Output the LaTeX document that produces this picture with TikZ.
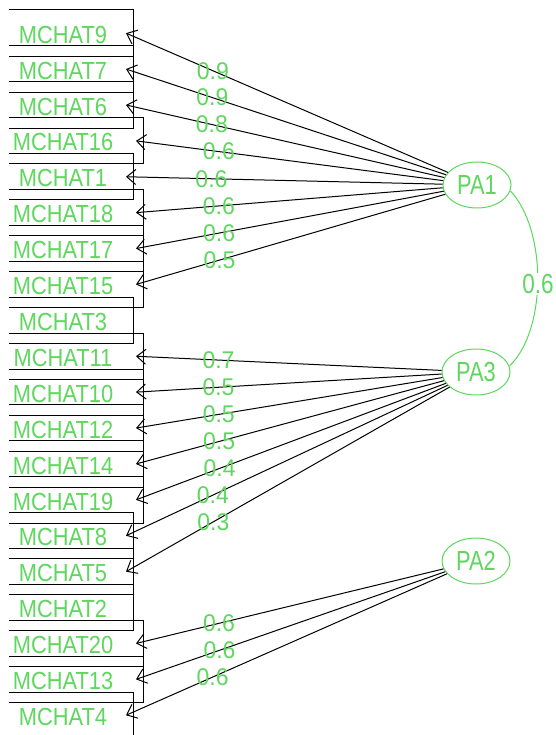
\documentclass[tikz,border=0pt]{standalone}
\usepackage{fontspec}
\setmainfont{Liberation Sans}
\usepackage{graphicx}
\usetikzlibrary{shapes.geometric,arrows.meta}
\definecolor{lg}{RGB}{95,215,95}
\begin{document}
\begin{tikzpicture}[x=1pt,y=-1pt,
  boxline/.style={draw=black,line width=1pt},
  item/.style={text=lg,font=\fontsize{24}{24}\selectfont,inner sep=0pt},
  factor/.style={ellipse,draw=lg,line width=1pt,text=lg,minimum width=68pt,minimum height=46pt,inner sep=0pt,font=\fontsize{23}{23}\selectfont},
  arr/.style={draw=black,line width=1pt,-{Straight Barb[length=9pt,width=15pt]}},
  ld/.style={text=lg,font=\fontsize{23}{23}\selectfont,inner sep=0pt},
]
\fill[white] (0,0) rectangle (555,735);
\useasboundingbox (0,0) rectangle (555,735);
\foreach \nm/\k/\r in {9/0/133,7/1/133,6/2/133,16/3/143,1/4/133,18/5/143,17/6/143,15/7/143,3/8/133,11/9/143,10/10/143,12/11/143,14/12/143,19/13/143,8/14/133,5/15/133,2/16/133,20/17/143,13/18/143,4/19/133}{
  \pgfmathsetmacro\tp{10+35.9*\k}
  \draw[boxline] (9,\tp) -- (\r,\tp) -- (\r,\tp+46.3) -- (9,\tp+46.3);
  \node[item,anchor=base] (m\nm) at (63,\tp+33.3) {\scalebox{0.91}[1.03]{MCHAT\nm}};
  \coordinate (t\nm) at (\r-7,\tp+23.15);
}
\node[factor] (PA1) at (477,185) {\scalebox{0.95}[1.2]{PA1}};
\node[factor] (PA3) at (476,372) {\scalebox{0.95}[1.2]{PA3}};
\node[factor] (PA2) at (476,561) {\scalebox{0.95}[1.2]{PA2}};
\foreach \f/\i/\v in {PA1/9/0.9,PA1/7/0.9,PA1/6/0.8,PA1/16/0.6,PA1/1/0.6,PA1/18/0.6,PA1/17/0.6,PA1/15/0.5,
  PA3/11/0.7,PA3/10/0.5,PA3/12/0.5,PA3/14/0.5,PA3/19/0.4,PA3/8/0.4,PA3/5/0.3,
  PA2/20/0.6,PA2/13/0.6,PA2/4/0.6}{
  \draw[arr] (\f) -- (t\i) node[ld,pos=0.73] {\scalebox{1}[1.05]{\v}};
}
\draw[draw=lg,line width=1pt] (PA1.-10) .. controls (547,230) and (547,330) .. (PA3.10);
\node[ld,fill=white,inner sep=1pt] (r13) at (538,284) {\scalebox{0.98}[1.2]{0.6}};
\end{tikzpicture}
\end{document}
